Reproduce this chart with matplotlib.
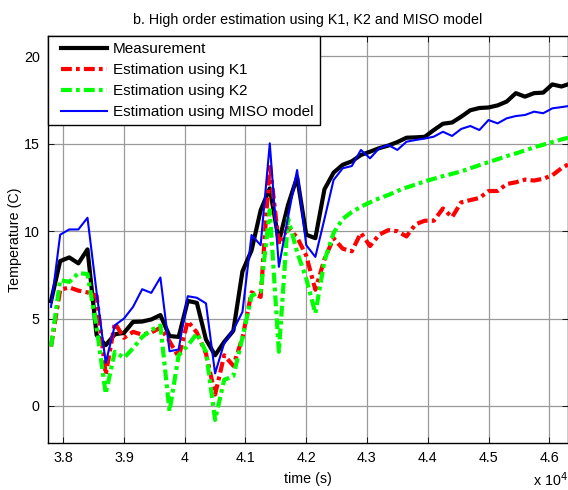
import matplotlib
matplotlib.use("Agg")
import matplotlib.pyplot as plt
from matplotlib.lines import Line2D
from matplotlib.legend_handler import HandlerLine2D
import numpy as np

plt.rcParams['font.family'] = ['Liberation Sans', 'DejaVu Sans']

# time samples (s)
t0 = 37800
dt = 150
n_pts = 58
time = t0 + dt * np.arange(n_pts)

measurement = [6.0, 8.29, 8.5, 8.16, 8.96, 4.05, 3.48, 4.1, 4.18, 4.81,
               4.83, 4.95, 5.2, 4.0, 3.95, 6.01, 5.9, 3.8, 2.9, 3.67,
               4.3, 7.7, 8.9, 11.2, 12.45, 9.4, 11.5, 13.1, 9.8, 9.6,
               12.4, 13.35, 13.8, 14.0, 14.36, 14.55, 14.75, 14.9, 15.1, 15.35,
               15.37, 15.4, 15.79, 16.15, 16.22, 16.55, 16.92, 17.05, 17.08, 17.2,
               17.42, 17.9, 17.7, 17.9, 17.93, 18.4, 18.28, 18.45]

est_k1 = [3.4, 6.65, 6.78, 6.6, 6.5, 6.3, 1.8, 4.75, 3.9, 4.24,
          4.08, 4.2, 4.48, 3.7, 2.8, 4.85, 4.2, 3.0, 0.65, 2.9,
          2.3, 3.9, 6.5, 6.24, 13.85, 9.25, 10.2, 9.65, 8.6, 6.65,
          8.4, 9.6, 9.0, 8.85, 9.9, 9.15, 9.8, 10.06, 10.0, 9.7,
          10.4, 10.6, 10.6, 11.3, 10.8, 11.65, 11.78, 11.9, 12.3, 12.3,
          12.7, 12.8, 12.95, 12.9, 13.0, 13.2, 13.6, 13.9]

est_k2 = [3.4, 7.2, 7.1, 7.6, 7.55, 4.5, 0.7, 3.1, 2.75, 3.3,
          3.95, 4.35, 4.6, -0.3, 2.9, 3.45, 4.15, 3.1, -0.8, 1.5,
          1.7, 3.9, 6.3, 6.55, 11.2, 3.1, 10.75, 8.8, 7.3, 5.3,
          8.3, 9.9, 10.7, 11.1, 11.4, 11.65, 11.88, 12.07, 12.3, 12.5,
          12.67, 12.85, 13.0, 13.15, 13.28, 13.42, 13.6, 13.78, 13.95, 14.12,
          14.3, 14.45, 14.62, 14.8, 14.95, 15.1, 15.25, 15.38]

est_miso = [5.67, 9.8, 10.1, 10.1, 10.77, 6.5, 2.46, 4.62, 5.0, 5.67,
            6.68, 6.47, 7.35, 3.13, 3.23, 6.28, 6.19, 5.87, 1.86, 3.6,
            4.34, 5.38, 9.78, 9.2, 15.03, 7.96, 10.8, 13.5, 9.2, 8.53,
            10.7, 12.93, 13.6, 13.73, 14.65, 14.17, 14.74, 14.93, 14.65, 15.12,
            15.22, 15.3, 15.41, 15.69, 15.45, 15.85, 16.02, 15.79, 16.36, 16.17,
            16.46, 16.59, 16.65, 16.84, 16.75, 17.03, 17.1, 17.18]

labels = ['Measurement', 'Estimation using K1', 'Estimation using K2',
          'Estimation using MISO model']
x_ticks = [38000, 39000, 40000, 41000, 42000, 43000, 44000, 45000, 46000]
x_ticklabels = ['3.8', '3.9', '4', '4.1', '4.2', '4.3', '4.4', '4.5', '4.6']
y_ticks = [0, 5, 10, 15, 20]

W, H = 568, 490
fig = plt.figure(figsize=(W / 100, H / 100), dpi=100)
ax = fig.add_axes([48 / W, 1 - 443 / H, (567.5 - 48) / W, (443 - 36) / H])

dash = (0, (2.6, 1.0, 0.9, 1.0))
ax.plot(time, measurement, color='black', lw=3.0, label=labels[0], zorder=3)
ax.plot(time, est_k1, color='#ff0000', lw=3.0, linestyle=dash, label=labels[1],
        zorder=3, dash_capstyle='butt')
ax.plot(time, est_k2, color='#00ff00', lw=3.0, linestyle=dash, label=labels[2],
        zorder=3, dash_capstyle='butt')
ax.plot(time, est_miso, color='#0000ff', lw=1.5, label=labels[3], zorder=4)

ax.set_xlim(37750, 46300)
ax.set_ylim(-2.12, 21.17)
ax.set_xticks(x_ticks)
ax.set_xticklabels(x_ticklabels)
ax.set_yticks(y_ticks)
ax.grid(True, color='#9a9a9a', lw=0.9, linestyle='-')
ax.set_axisbelow(True)
ax.tick_params(direction='in', length=4, width=0.6, top=True, right=True,
               labelsize=10.3, pad=6, colors='black')
for s in ax.spines.values():
    s.set_linewidth(1.0)
    s.set_color('black')

ax.set_title('b. High order estimation using K1, K2 and MISO model',
             fontsize=10.3, pad=9)
ax.set_xlabel('time (s)', fontsize=10.3, labelpad=5)
ax.set_ylabel('Temperature (C)', fontsize=10.3, labelpad=1)

fig.text(533 / W, 1 - 486 / H, r'x 10$^{4}$', fontsize=10.3, ha='left', va='baseline')

leg = ax.legend(loc='upper left', bbox_to_anchor=(0, 1), borderaxespad=0,
                fancybox=False, framealpha=1, edgecolor='black', fontsize=11,
                handlelength=3.45, handletextpad=0.4, labelspacing=0.45,
                borderpad=0.42,
                handler_map={Line2D: HandlerLine2D(xpad=0.4)})
leg.get_frame().set_linewidth(1.0)

fig.savefig('out.png', dpi=100)
